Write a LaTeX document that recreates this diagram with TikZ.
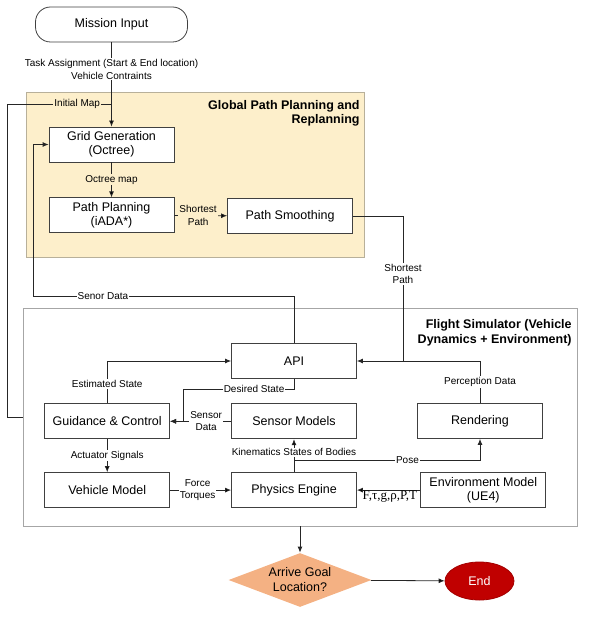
\documentclass[tikz,border=0pt]{standalone}
\usepackage{fontspec}
\setmainfont{Liberation Sans}
\newfontfamily\timesfont{Liberation Serif}
\usetikzlibrary{arrows.meta,backgrounds,calc,positioning,shapes.geometric}
\definecolor{plannerfill}{HTML}{FDEFCB}
\definecolor{plannerline}{HTML}{B8B09A}
\definecolor{framegray}{HTML}{A6A6A6}
\definecolor{boxgray}{HTML}{404040}
\definecolor{decisionfill}{HTML}{F4B183}
\definecolor{endred}{HTML}{C00000}

\begin{document}
\begin{tikzpicture}[x=1pt,y=-1pt,align=center,line width=0.8pt,>={Latex[length=6pt,width=5pt]}]
\tikzstyle{block}=[draw=boxgray,fill=white,minimum width=125pt,minimum height=35pt,inner sep=1pt,font=\fontsize{12.5}{14.5}\selectfont]
\tikzstyle{paneltitle}=[anchor=north east,align=right,inner sep=0pt,font=\bfseries\fontsize{12.5}{14.5}\selectfont]
\tikzstyle{lbl}=[fill=white,inner sep=1pt,font=\fontsize{10}{12.5}\selectfont]
\tikzstyle{plbl}=[lbl,fill=plannerfill]
\tikzstyle{wire}=[draw=black!85]

\useasboundingbox (0,0) rectangle (593,617);

\node[draw=plannerline,fill=plannerfill,minimum width=338pt,minimum height=165pt] (planner) at (195,174.5) {};
\node[draw=framegray,fill=white,minimum width=554pt,minimum height=218pt] (sim) at (300,417) {};
\node[paneltitle] (plannertitle) at (360,100) {Global Path Planning and\\Replanning};
\node[paneltitle] (simtitle) at (572,319.5) {Flight Simulator (Vehicle\\Dynamics + Environment)};

\node[block,rounded corners=15pt,minimum width=152pt] (mission) at (111.5,24.5) {Mission Input};
\node[block] (grid) at (111.5,144.5) {Grid Generation\\(Octree)};
\node[block] (plan) [below=35pt of grid] {Path Planning\\(iADA*)};
\node[block] (smooth) at (290,216) {Path Smoothing};

\node[block] (api) at (294,361) {API};
\node[block] (sensor) [below=24.5pt of api] {Sensor Models};
\node[block] (guid) [left=61pt of sensor] {Guidance \& Control};
\node[block] (render) at (480,421) {Rendering};
\node[block] (vehicle) [below=33pt of guid] {Vehicle Model};
\node[block] (phys) [right=61pt of vehicle] {Physics Engine};
\node[block] (env) [right=63.5pt of phys] {Environment Model\\(UE4)};

\node[diamond,fill=decisionfill,minimum width=143pt,minimum height=54pt,aspect=2.6,inner sep=0pt,font=\fontsize{12.5}{15}\selectfont] (goal) at (300,580) {Arrive Goal\\Location?};
\node[ellipse,fill=endred,draw=endred!85!black,minimum width=69pt,minimum height=38pt,text=white,font=\fontsize{12.5}{14.5}\selectfont] (stop) at (479.5,581) {End};

\coordinate (mapjoin) at (111.5,104);
\coordinate (sensorbend) at (33,296);
\coordinate (apijoin) at (403,361);
\coordinate (desiredbend) at (183,389);
\coordinate (posejoin) at (294,460);

\path[->,wire]
  (mission) edge node[lbl,pos=0.32] {Task Assignment (Start \& End location)\\Vehicle Contraints} (grid)
  (grid) edge node[plbl] {Octree map} (plan)
  (plan) edge node[plbl,pos=0.45] {Shortest\\Path} (smooth)
  (sensor) edge node[lbl,pos=0.41] {Sensor\\Data} (guid)
  (guid) edge node[lbl] {Actuator Signals} (vehicle)
  (vehicle) edge node[lbl,pos=0.45] {Force\\Torques} (phys)
  (phys) edge node[lbl,pos=0.6] {Kinematics States of Bodies} (sensor)
  (env) edge node[below,pos=0.48,inner sep=0.5pt,font=\timesfont\fontsize{13}{15}\selectfont] {F,τ,g,ρ,P,T} (phys)
  (goal) edge (stop);

\draw[wire] (sim.west) -- ++(-15,0) |- node[plbl,pos=0.835] {Initial Map} (mapjoin);
\draw[wire,->] (api.north) |- node[lbl,pos=0.866] {Senor Data} (sensorbend) |- (grid.west);
\draw[wire,->] (smooth.east) -| node[lbl,pos=0.70] {Shortest\\Path} (apijoin) -- (api.east);
\draw[wire] (render.north) |- node[lbl,pos=0.25] {Perception Data} (apijoin);
\draw[wire,->] (guid.north) |- node[lbl,pos=0.23] {Estimated State} (api.west);
\draw[wire,->] (api.south) |- node[lbl,pos=0.68] {Desired State} (desiredbend) |- (guid.east);
\draw[wire,->] (posejoin) -| node[lbl,pos=0.305] {Pose} (render.south);
\draw[wire,->] (sim.south -| goal.north) -- (goal.north);
\end{tikzpicture}
\end{document}
